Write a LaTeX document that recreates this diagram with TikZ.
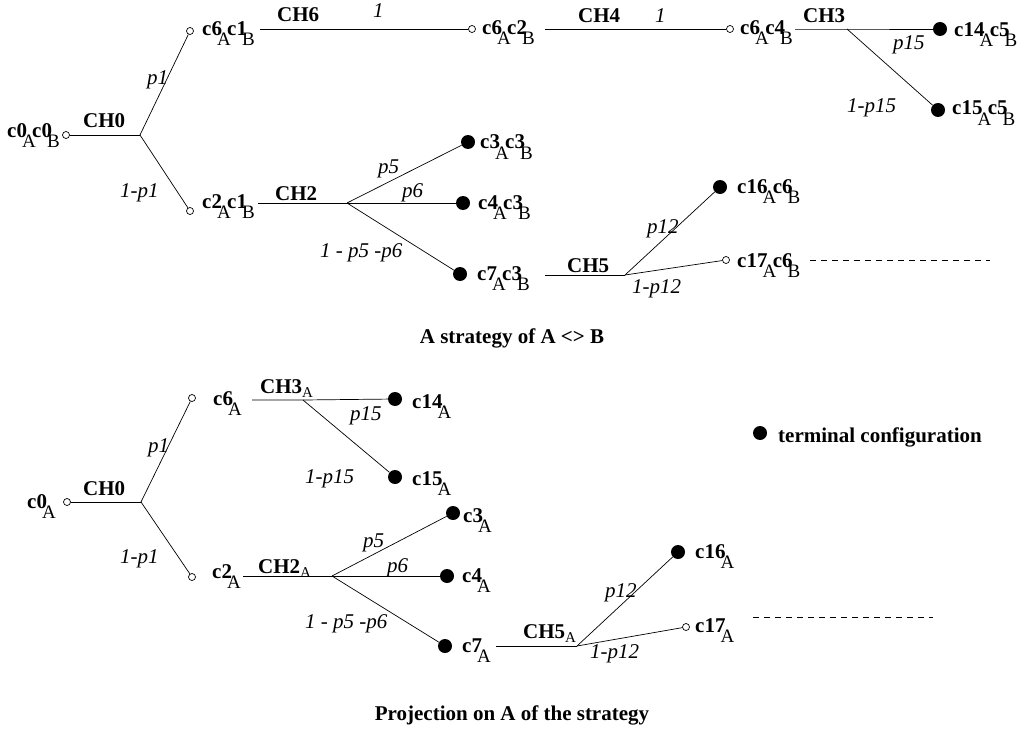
\documentclass[tikz,border=0pt]{standalone}
\usepackage{fontspec}
\setmainfont{Liberation Serif}
\newcommand\subl[1]{\kern-5pt\raisebox{-10pt}{\mdseries\fontsize{19}{22}\selectfont #1}\kern-3.5pt}
\newcommand\ssubl[1]{\raisebox{-4pt}{\mdseries\fontsize{15}{18}\selectfont #1}}
\tikzset{
  lab/.style={anchor=base west,inner sep=0pt,font=\fontsize{21}{25}\selectfont\bfseries},
  prob/.style={anchor=base west,inner sep=0pt,font=\fontsize{21}{25}\selectfont\itshape},
  captext/.style={anchor=base,inner sep=0pt,font=\fontsize{21}{25}\selectfont\bfseries},
  oc/.style={circle,draw,line width=0.7pt,minimum size=7pt,inner sep=0pt,fill=white},
  fc/.style={circle,fill=black,minimum size=14pt,inner sep=0pt},
  conn/.style={line width=0.7pt},
  dline/.style={line width=0.7pt,dash pattern=on 6pt off 5pt}
}
\begin{document}
\begin{tikzpicture}[x=1pt,y=-1pt]
\useasboundingbox (0,0) rectangle (1017,733);
% ===== top tree =====
\node[oc] (t0) at (66,135) {};
\node[lab] (t0l) at (7,138) {c0\subl{A}c0\subl{B}};
\coordinate (tb0) at (140,135);
\node[lab] (tch0) at (83,128) {CH0};
\node[oc] (t1) at (190,31) {};
\node[oc] (t2) at (190,211) {};
\draw[conn] (t0) -- (tb0);
\draw[conn] (tb0) -- (t1);
\draw[conn] (tb0) -- (t2);
\node[prob] (tp1) at (147,85) {p1};
\node[prob] (tq1) at (120,197) {1-p1};
\node[lab] (t1l) at (202,36) {c6\subl{A}c1\subl{B}};
\coordinate (ts1) at (260,29);
\node[oc] (t3) at (472,29) {};
\draw[conn] (ts1) -- (t3);
\node[lab] (tch6) at (277,22) {CH6};
\node[prob] (tone1) at (373,18) {1};
\node[lab] (t3l) at (482,35) {c6\subl{A}c2\subl{B}};
\coordinate (ts3) at (545,29);
\node[oc] (t4) at (730,29) {};
\draw[conn] (ts3) -- (t4);
\node[lab] (tch4) at (578,23) {CH4};
\node[prob] (tone2) at (655,23) {1};
\node[lab] (t4l) at (740,35) {c6\subl{A}c4\subl{B}};
\coordinate (ts4) at (795,29);
\coordinate (tb4) at (847,29);
\node[fc] (t5) at (940,29) {};
\node[fc] (t6) at (938,110) {};
\draw[conn] (ts4) -- (tb4) -- (t5);
\draw[conn] (tb4) -- (t6);
\node[lab] (tch3) at (803,23) {CH3};
\node[prob] (tp15) at (893,50) {p15};
\node[prob] (tq15) at (847,113) {1-p15};
\node[lab] (t5l) at (954,37) {c14\subl{A}c5\subl{B}};
\node[lab] (t6l) at (952,115) {c15\subl{A}c5\subl{B}};
% second branch
\node[lab] (t2l) at (202,208) {c2\subl{A}c1\subl{B}};
\coordinate (ts2) at (258,203);
\coordinate (tb2) at (347,203);
\node[fc] (t7) at (468,142) {};
\node[fc] (t8) at (463,203) {};
\node[fc] (t9) at (460,274) {};
\draw[conn] (ts2) -- (tb2);
\draw[conn] (tb2) -- (t7);
\draw[conn] (tb2) -- (t8);
\draw[conn] (tb2) -- (t9);
\node[lab] (tch2) at (275,200) {CH2};
\node[prob] (tp5) at (378,173) {p5};
\node[prob] (tp6) at (402,197) {p6};
\node[prob] (tq56) at (320,257) {1 - p5 -p6};
\node[lab] (t7l) at (480,149) {c3\subl{A}c3\subl{B}};
\node[lab] (t8l) at (478,209) {c4\subl{A}c3\subl{B}};
\node[lab] (t9l) at (477,280) {c7\subl{A}c3\subl{B}};
\coordinate (ts9) at (545,275);
\coordinate (tb9) at (625,275);
\node[fc] (t10) at (720,187) {};
\node[oc] (t11) at (726,260) {};
\draw[conn] (ts9) -- (tb9);
\draw[conn] (tb9) -- (t10);
\draw[conn] (tb9) -- (t11);
\node[lab] (tch5) at (567,272) {CH5};
\node[prob] (tp12) at (647,233) {p12};
\node[prob] (tq12) at (632,293) {1-p12};
\node[lab] (t10l) at (737,193) {c16\subl{A}c6\subl{B}};
\node[lab] (t11l) at (737,267) {c17\subl{A}c6\subl{B}};
\coordinate (td1) at (810,260);
\coordinate (td2) at (990,260);
\draw[dline] (td1) -- (td2);
\node[captext] (cap1) at (512,343) {A strategy of A <> B};
% ===== bottom tree =====
\node[oc] (b0) at (67,502) {};
\node[lab] (b0l) at (27,508) {c0\subl{A}};
\coordinate (bb0) at (141,502);
\node[lab] (bch0) at (83,495) {CH0};
\node[oc] (b1) at (192,398) {};
\node[oc] (b2) at (192,577) {};
\draw[conn] (b0) -- (bb0);
\draw[conn] (bb0) -- (b1);
\draw[conn] (bb0) -- (b2);
\node[prob] (bp1) at (148,452) {p1};
\node[prob] (bq1) at (120,563) {1-p1};
\node[lab] (b1l) at (213,405) {c6\subl{A}};
\coordinate (bs1) at (252,400);
\coordinate (bb1) at (303,400);
\node[fc] (b3) at (395,399) {};
\node[fc] (b4) at (395,477) {};
\draw[conn] (bs1) -- (bb1) -- (b3);
\draw[conn] (bb1) -- (b4);
\node[lab] (bch3) at (260,393) {CH3\ssubl{A}};
\node[prob] (bp15) at (350,420) {p15};
\node[prob] (bq15) at (305,483) {1-p15};
\node[lab] (b3l) at (412,408) {c14\subl{A}};
\node[lab] (b4l) at (412,485) {c15\subl{A}};
\node[lab] (b2l) at (212,578) {c2\subl{A}};
\coordinate (bs2) at (243,576);
\coordinate (bb2) at (332,576);
\node[fc] (b5) at (453,513) {};
\node[fc] (b6) at (447,576) {};
\node[fc] (b7) at (445,646) {};
\draw[conn] (bs2) -- (bb2);
\draw[conn] (bb2) -- (b5);
\draw[conn] (bb2) -- (b6);
\draw[conn] (bb2) -- (b7);
\node[lab] (bch2) at (258,573) {CH2\ssubl{A}};
\node[prob] (bp5) at (363,547) {p5};
\node[prob] (bp6) at (387,572) {p6};
\node[prob] (bq56) at (305,628) {1 - p5 -p6};
\node[lab] (b5l) at (463,522) {c3\subl{A}};
\node[lab] (b6l) at (462,582) {c4\subl{A}};
\node[lab] (b7l) at (462,652) {c7\subl{A}};
\coordinate (bs7) at (496,646);
\coordinate (bb7) at (577,646);
\node[fc] (b8) at (678,552) {};
\node[oc] (b9) at (686,627) {};
\draw[conn] (bs7) -- (bb7);
\draw[conn] (bb7) -- (b8);
\draw[conn] (bb7) -- (b9);
\node[lab] (bch5) at (523,638) {CH5\ssubl{A}};
\node[prob] (bp12) at (605,597) {p12};
\node[prob] (bq12) at (590,658) {1-p12};
\node[lab] (b8l) at (695,558) {c16\subl{A}};
\node[lab] (b9l) at (695,632) {c17\subl{A}};
\coordinate (bd1) at (753,617);
\coordinate (bd2) at (933,617);
\draw[dline] (bd1) -- (bd2);
% legend
\node[fc] (leg) at (760,433) {};
\node[lab] (legl) at (778,442) {terminal configuration};
\node[captext] (cap2) at (512,720) {Projection on A of the strategy};
\end{tikzpicture}
\end{document}
